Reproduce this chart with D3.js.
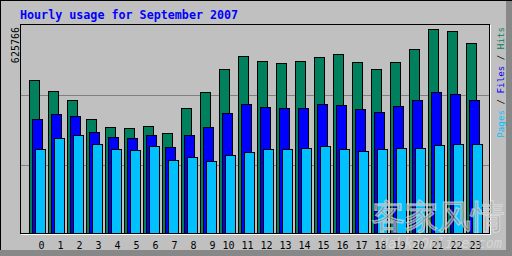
<!DOCTYPE html>
<html lang="en">
<head>
  <meta charset="UTF-8">
  <title>Hourly usage for September 2007</title>
  <script src="https://cdn.jsdelivr.net/npm/d3@7.8.5/dist/d3.min.js"></script>
  <style>
    body { margin: 0; background: #c0c0c0; }
    svg { display: block; }
    text { font-family: 'DejaVu Sans Mono', monospace; }
  </style>
</head>
<body>
  <svg id="chart" width="512" height="256"></svg>
  <script>
    // Hourly totals
    const hours = ["0","1","2","3","4","5","6","7","8","9","10","11","12","13","14","15","16","17","18","19","20","21","22","23"];
    const hits  = [469100,435300,407650,349290,324710,321640,327790,306280,383080,432230,502890,542820,
                   527460,521320,527460,539750,548970,524390,502890,524390,564330,625766,619620,582760];
    const files = [349290,364650,358500,309350,293990,290920,300130,263270,300130,324710,367720,395370,
                   386150,383080,383080,395370,392290,380000,370790,389220,407650,432230,426080,407650];
    const pages = [257130,290920,300130,272490,257130,254050,266340,223330,232550,220260,238690,247910,
                   257130,257130,260200,266340,257130,250980,257130,260200,260200,269410,272490,272490];
    const maxLabel = "625766";

    const width = 512, height = 256;
    const svg = d3.select("#chart");

    // outer bevel
    svg.append("rect").attr("width", width).attr("height", height).attr("fill", "#c0c0c0");
    svg.append("rect").attr("x", 0).attr("y", 250).attr("width", width).attr("height", 6).attr("fill", "#888");
    svg.append("rect").attr("x", 506).attr("y", 0).attr("width", 6).attr("height", height).attr("fill", "#888");
    svg.append("line").attr("x1", 0).attr("x2", width).attr("y1", 0.5).attr("y2", 0.5).attr("stroke", "#000");
    svg.append("line").attr("x1", 0.5).attr("x2", 0.5).attr("y1", 0).attr("y2", 250).attr("stroke", "#000");

    const x = d3.scaleBand().domain(hours).range([29, 485]);
    const y = d3.scaleLinear().domain([0, 625766]).range([233, 29.3]);
    const grid = d3.scaleLinear().domain([0, 3]).range([235, 25]);

    // background grid
    svg.append("g")
      .selectAll("line")
      .data([1, 2])
      .enter()
      .append("line")
      .attr("x1", 21).attr("x2", 489)
      .attr("y1", d => Math.round(grid(d)) + 0.5)
      .attr("y2", d => Math.round(grid(d)) + 0.5)
      .attr("stroke", "#808080");

    const series = [
      { name: "Hits", values: hits, color: "#00805c", off: 0 },
      { name: "Files", values: files, color: "#0000ff", off: 3 },
      { name: "Pages", values: pages, color: "#00c0ff", off: 6 }
    ];

    series.forEach(s => {
      svg.append("g")
        .selectAll("rect")
        .data(s.values)
        .enter()
        .append("rect")
        .attr("x", (d, i) => Math.round(x(hours[i]) + s.off) + 0.5)
        .attr("y", d => Math.round(y(d)) + 0.5)
        .attr("width", 10)
        .attr("height", d => y(0) - Math.round(y(d)))
        .attr("fill", s.color)
        .attr("stroke", "#000");
    });

    // plot frame
    svg.append("path").attr("d", "M490.5,25V234.5H21").attr("fill", "none").attr("stroke", "#fff");
    svg.append("rect").attr("x", 20.5).attr("y", 24.5).attr("width", 469).attr("height", 209)
      .attr("fill", "none").attr("stroke", "#000");

    // hour labels, right aligned like "%2d"
    svg.append("g")
      .selectAll("text")
      .data(hours)
      .enter()
      .append("text")
      .attr("x", d => x(d) + 15.5)
      .attr("y", 248.5)
      .attr("text-anchor", "end")
      .attr("font-size", "10px")
      .attr("fill", "#000")
      .text(d => d);

    svg.append("text")
      .attr("x", 20).attr("y", 19)
      .attr("font-size", "11.7px").attr("font-weight", "bold")
      .attr("fill", "#0000ff")
      .text("Hourly usage for September 2007");

    svg.append("text")
      .attr("transform", "translate(19,27) rotate(-90)")
      .attr("text-anchor", "end")
      .attr("font-size", "10px")
      .attr("fill", "#000")
      .text(maxLabel);

    const legend = svg.append("text")
      .attr("transform", "translate(504,27) rotate(-90)")
      .attr("text-anchor", "end")
      .attr("font-size", "9.2px");
    legend.append("tspan").attr("fill", "#00c0ff").text("Pages");
    legend.append("tspan").attr("fill", "#000").text(" / ");
    legend.append("tspan").attr("fill", "#0000ff").text("Files");
    legend.append("tspan").attr("fill", "#000").text(" / ");
    legend.append("tspan").attr("fill", "#00805c").text("Hits");

    // site watermark (sits over the labels, as in the original)
    svg.append("text")
      .attr("x", 372).attr("y", 228)
      .attr("font-family", "'Noto Sans CJK SC'")
      .attr("font-size", "33px")
      .attr("fill", "#707070").attr("fill-opacity", 0.55)
      .attr("stroke", "#e8e8e8").attr("stroke-opacity", 0.6).attr("stroke-width", 1.5)
      .text("客家风情");
    svg.append("text")
      .attr("x", 380).attr("y", 248)
      .attr("font-family", "'DejaVu Sans'")
      .attr("font-size", "13.5px").attr("font-style", "italic")
      .attr("fill", "#e8e8e8").attr("fill-opacity", 0.55)
      .text("HakkaOnline.com");
  </script>
</body>
</html>
